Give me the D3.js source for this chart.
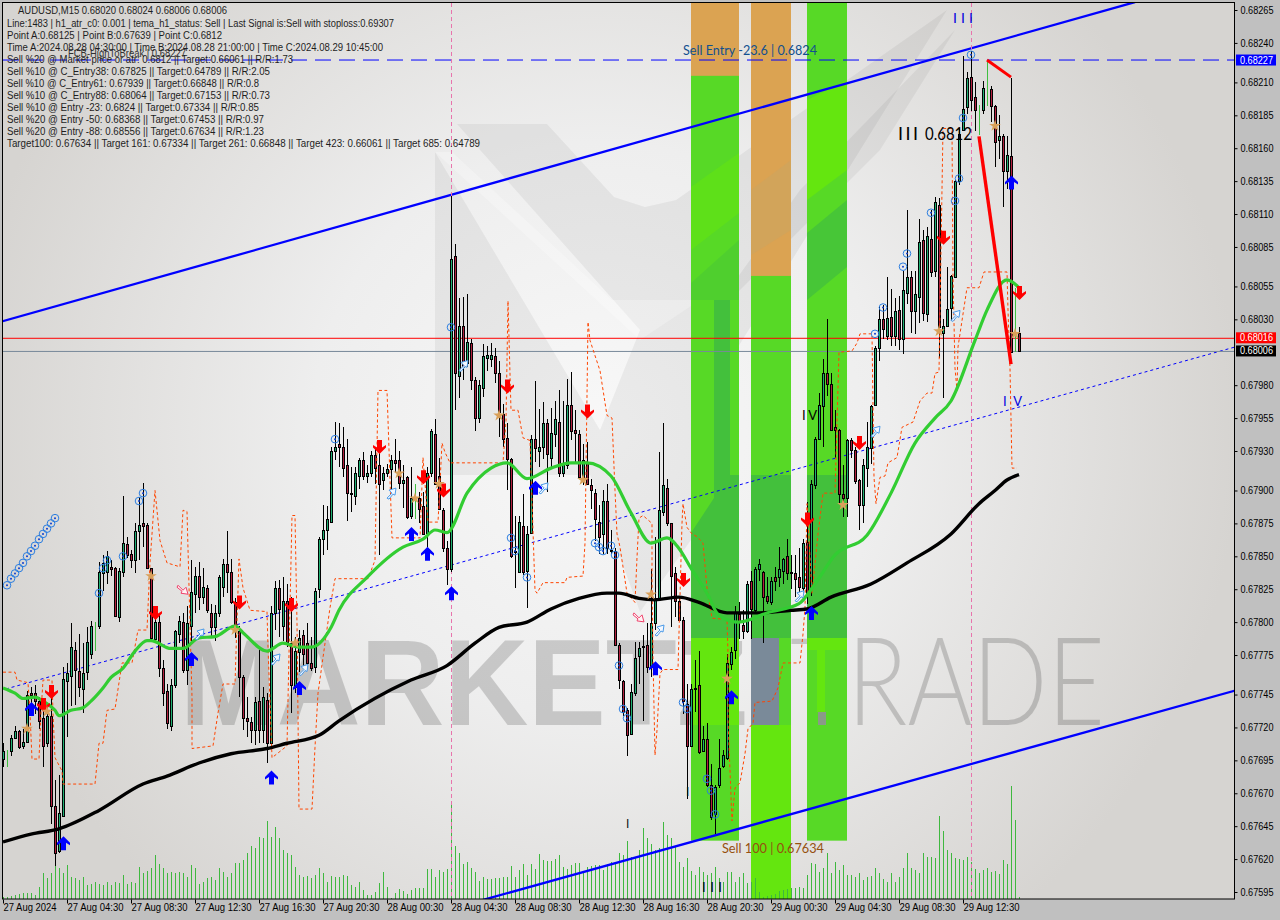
<!DOCTYPE html>
<html><head><meta charset="utf-8">
<script src="https://cdnjs.cloudflare.com/ajax/libs/d3/7.8.5/d3.min.js"></script>
<style>html,body{margin:0;padding:0;background:#c0c0c0;overflow:hidden}svg{display:block}text{font-family:"Liberation Sans",Arial,sans-serif}</style>
</head><body><svg id="c" width="1280" height="920"></svg>
<script>
// Prices are in points (1e-5)
const opens=[67696,67702,67702,67712,67717,67706,67709,67746,67746,67740,
67727,67708,67729,67660,67626,67653,67755,67759,67779,67763,
67749,67762,67776,67790,67797,67837,67838,67842,67841,67804,
67838,67859,67852,67847,67869,67875,67874,67841,67787,67800,
67765,67748,67721,67752,67791,67800,67764,67797,67821,67835,
67819,67826,67807,67796,67807,67827,67844,67838,67815,67793,
67758,67727,67724,67718,67740,67718,67741,67708,67807,67826,
67797,67816,67784,67751,67777,67790,67784,67769,67766,67825,
67863,67870,67876,67930,67935,67933,67919,67898,67896,67911,
67923,67911,67913,67927,67919,67908,67913,67916,67923,67923,
67906,67910,67881,67898,67894,67888,67868,67913,67943,67911,
67885,67856,67840,68078,67987,68025,67997,68012,67984,67955,
67978,68001,68000,68002,67989,67958,67940,67924,67854,67838,
67873,67839,67868,67939,67930,67933,67951,67925,67943,67952,
67913,67919,67965,67946,67943,67910,67921,67904,67898,67876,
67867,67892,67855,67854,67783,67755,67733,67715,67746,67774,
67781,67783,67766,67799,67818,67884,67902,67875,67837,67816,
67802,67738,67706,67750,67752,67702,67711,67676,67654,67676,
67691,67697,67768,67779,67806,67798,67793,67831,67809,67840,
67838,67820,67815,67834,67834,67839,67850,67838,67837,67834,
67826,67861,67825,67904,67939,67964,67989,67981,67948,67946,
67897,67894,67938,67931,67908,67889,67917,67932,67965,68008,
68030,68017,68032,68017,68037,68015,68050,68062,68036,68047,
68090,68034,68091,68067,68117,68020,68025,68039,68062,68135,
68174,68191,68214,68199,68192,68189,68204,68205,68192,68166,
68169,68143,68154,68020,68020];
const highs=[67708,67703,67714,67721,67718,67719,67748,67751,67752,67743,
67741,67736,67743,67680,67684,67766,67769,67799,67785,67791,
67784,67796,67801,67800,67846,67851,67854,67847,67842,67841,
67896,67865,67855,67875,67895,67906,67875,67841,67808,67807,
67771,67753,67757,67794,67805,67807,67812,67847,67842,67846,
67841,67828,67814,67813,67836,67848,67869,67848,67818,67797,
67760,67743,67728,67743,67779,67751,67746,67812,67831,67832,
67834,67829,67819,67789,67794,67794,67799,67789,67826,67865,
67889,67888,67933,67952,67951,67948,67939,67918,67918,67925,
67929,67919,67930,67932,67933,67918,67920,67927,67939,67930,
67919,67911,67918,67905,67899,67899,67918,67947,67954,67925,
67887,67862,68124,68087,68046,68047,68049,68015,67986,67984,
68011,68010,68012,68008,67998,67966,67951,67925,67881,67881,
67897,67873,67942,67983,67962,67967,67954,67963,67968,67976,
67968,67985,67990,67961,67946,67935,67937,67909,67901,67889,
67900,67905,67870,67856,67784,67756,67735,67753,67785,67785,
67790,67799,67840,67865,67929,67951,67909,67875,67842,67819,
67804,67753,67753,67771,67778,67721,67723,67692,67676,67711,
67703,67776,67781,67812,67815,67809,67831,67839,67842,67848,
67839,67834,67834,67842,67857,67849,67863,67851,67851,67856,
67863,67891,67908,67941,67974,68000,68030,67989,67961,67947,
67919,67939,67940,67933,67909,67924,67952,67965,68010,68040,
68041,68062,68053,68046,68048,68067,68113,68067,68067,68106,
68098,68100,68113,68123,68122,68030,68070,68064,68136,68175,
68230,68218,68234,68210,68193,68211,68226,68207,68193,68185,
68171,68169,68213,68054,68024];
const lows=[67690,67690,67698,67712,67704,67704,67708,67731,67730,67719,
67690,67705,67647,67615,67625,67652,67713,67736,67737,67743,
67731,67756,67772,67778,67795,67824,67829,67835,67804,67800,
67834,67849,67841,67837,67847,67857,67840,67786,67785,67758,
67736,67719,67717,67750,67784,67761,67752,67786,67807,67809,
67814,67807,67789,67786,67804,67819,67822,67814,67788,67743,
67718,67713,67708,67707,67708,67708,67693,67705,67794,67789,
67786,67781,67731,67746,67762,67766,67766,67763,67761,67818,
67851,67855,67875,67923,67918,67910,67877,67884,67889,67901,
67908,67906,67910,67905,67851,67900,67910,67901,67913,67901,
67887,67878,67878,67878,67875,67866,67857,67910,67904,67885,
67853,67828,67838,67961,67970,67984,67994,67976,67945,67951,
67971,67991,67994,67982,67941,67933,67900,67849,67826,67837,
67836,67811,67867,67922,67918,67924,67899,67918,67933,67910,
67910,67916,67938,67920,67909,67904,67904,67886,67862,67852,
67852,67852,67852,67782,67749,67729,67698,67714,67744,67753,
67725,67761,67758,67794,67816,67881,67873,67796,67804,67801,
67730,67666,67705,67732,67700,67701,67675,67650,67639,67674,
67689,67695,67764,67772,67787,67787,67792,67787,67808,67831,
67784,67814,67813,67824,67827,67829,67832,67825,67819,67822,
67822,67814,67820,67901,67938,67933,67972,67946,67925,67890,
67880,67880,67925,67905,67870,67875,67903,67920,67964,67998,
68015,68014,68010,68010,68007,68004,68042,68020,68019,68027,
68029,68028,68062,68062,68001,67970,68024,68029,68062,68132,
68173,68186,68188,68173,68170,68186,68192,68180,68146,68152,
68115,68129,68005,68005,68006];
const closes=[67702,67702,67712,67717,67705,67709,67745,67745,67740,67725,
67706,67729,67660,67625,67655,67757,67761,67781,67764,67751,
67761,67785,67797,67790,67838,67845,67850,67840,67805,67839,
67860,67851,67847,67869,67874,67873,67841,67788,67800,67765,
67746,67723,67752,67793,67801,67764,67799,67823,67835,67819,
67827,67809,67796,67807,67834,67844,67838,67815,67798,67758,
67727,67725,67718,67739,67718,67743,67708,67807,67826,67810,
67816,67785,67752,67778,67788,67776,67769,67765,67824,67863,
67870,67878,67930,67933,67933,67917,67898,67897,67913,67923,
67911,67913,67927,67917,67905,67913,67916,67923,67921,67906,
67908,67880,67894,67898,67886,67867,67913,67945,67905,67886,
67856,67840,68076,67989,68025,67994,68013,67984,67955,67980,
68002,68003,68003,67989,67960,67939,67924,67850,67853,67876,
67838,67867,67939,67932,67933,67951,67928,67944,67954,67913,
67920,67965,67945,67944,67910,67923,67905,67900,67878,67865,
67892,67856,67854,67783,67756,67732,67714,67747,67773,67780,
67782,67766,67799,67818,67885,67904,67875,67835,67816,67802,
67740,67706,67749,67749,67701,67711,67676,67652,67675,67689,
67699,67769,67777,67808,67801,67793,67829,67810,67840,67844,
67819,67816,67831,67831,67840,67848,67837,67837,67833,67827,
67860,67822,67905,67939,67965,67989,67981,67946,67946,67897,
67894,67938,67931,67907,67889,67919,67933,67964,68008,68030,
68023,68031,68017,68036,68015,68052,68062,68036,68049,68089,
68035,68093,68066,68119,68024,68025,68038,68063,68135,68171,
68190,68213,68197,68189,68192,68206,68204,68192,68165,68169,
68143,68155,68005,68020,68006];
const thinBars=[1,23,103,244,246,253];
const volumes=[2,2,3,4,5,6,6,6,4,12,26,21,26,34,31,26,34,22,21,19,
22,14,15,17,15,14,17,14,17,16,24,15,17,16,32,26,28,31,44,35,
31,26,27,26,27,26,22,34,31,15,17,21,22,19,31,27,22,26,36,36,
39,46,53,51,62,61,78,62,72,61,49,46,44,32,24,22,23,21,24,31,
26,17,23,22,22,24,23,14,12,17,9,4,4,7,16,27,12,1,6,10,
8,5,9,11,11,11,30,30,22,29,27,30,94,53,46,35,37,31,27,18,
22,20,20,21,21,22,22,33,22,29,35,24,35,30,45,39,38,38,40,44,
32,30,34,36,36,26,32,33,34,34,29,35,37,37,46,44,58,42,41,49,
71,61,55,49,51,77,64,61,52,37,32,41,28,24,32,27,24,26,32,21,
17,27,27,17,22,26,16,17,21,7,2,3,4,5,8,9,10,11,11,12,
11,24,36,35,27,31,46,26,37,29,34,24,24,22,26,19,22,23,31,26,
20,17,26,17,22,31,46,31,29,26,46,42,42,41,83,68,49,46,41,40,
39,42,37,30,26,29,31,27,28,25,39,35,113,79,2];

const blackIdx=[0,7,14,24,35,41,49,57,66,71,79,84,102,111,118,124,131,137,144,151,154,159,163,169,174,181,189,197,201,207,217,226,237,244,248,251,254];
const blackVal=[67633,67639,67643,67657,67677,67683,67693,67700,67704,67708,67714,67725,67756,67767,67784,67796,67800,67810,67818,67822,67822,67818,67817,67819,67815,67807,67807,67809,67810,67819,67829,67845,67867,67890,67900,67908,67912];
const greenIdx=[0,3,5,8,10,13,14,17,20,22,25,27,30,33,36,37,42,45,49,53,58,60,66,70,74,77,82,84,91,100,105,108,111,116,122,126,131,137,142,146,152,157,162,166,169,172,176,179,184,191,199,203,208,216,222,228,233,237,243,246,251,254];
const greenVal=[67750,67746,67742,67743,67740,67733,67729,67733,67735,67740,67750,67758,67765,67778,67786,67786,67780,67780,67788,67789,67797,67792,67778,67784,67781,67781,67796,67809,67834,67857,67863,67870,67868,67898,67917,67921,67909,67917,67921,67921,67911,67883,67860,67864,67856,67841,67822,67805,67800,67807,67814,67829,67851,67866,67898,67936,67955,67968,68014,68037,68060,68054];
const stopIdx=[0,3,3.5,6.25,6.75,7.25,9,9.5,10,12.25,12.5,13,14.75,15,23,24,25,26,28,29.75,32.25,33.75,36,36.75,38,39.25,41,44.25,45,46,47.25,47.25,52.5,53.75,55,58,59,60,61.75,66,66.25,67.25,71,72.25,73,73.5,74,77.25,78,78.75,81.75,83,91.25,93,93.75,96,97.25,101.75,104.25,105,106.25,108.75,109.75,110.5,111.75,125,125.75,126.25,127,128.75,130,131.75,133,133.5,135,140.5,141,145,145.5,146.25,146.75,149.25,151,152.25,153,153.5,154.25,156,158,158.5,159,160,162.25,162.25,162.5,163,163.5,164.25,165,168.75,169.75,170,171,172.25,173.5,175,176,177.25,181,181.25,181.25,182.25,183,184.25,185.5,186.25,187.5,188,192.25,193.75,195,199.25,200,200.5,201,202.25,203.75,205,208,209,212.25,213.5,214.25,217.25,217.75,218.25,219.25,220.5,221.25,223.5,224.75,227.5,229.25,231,232.25,233,234,235,237.25,237.5,238,238.5,238.75,239.75,241,244,245.25,251,251.25,251.75,252.25,253.5];
const stopVal=[67762,67762,67756,67754,67731,67696,67696,67731,67756,67756,67731,67697,67687,67677,67677,67708,67708,67733,67734,67769,67769,67794,67794,67845,67900,67862,67845,67842,67885,67884,67743,67704,67706,67731,67753,67753,67848,67826,67809,67808,67781,67697,67706,67881,67881,67799,67658,67658,67705,67746,67811,67833,67833,67847,67976,67976,67864,67864,67864,67925,67876,67876,67936,67929,67921,67921,67953,68044,67961,67961,67940,67938,67824,67822,67830,67830,67834,67835,67860,68028,68014,67991,67957,67955,67900,67867,67857,67822,67815,67849,67879,67881,67875,67834,67773,67699,67718,67761,67764,67764,67875,67890,67872,67867,67865,67860,67826,67803,67802,67776,67725,67649,67674,67678,67700,67719,67723,67739,67740,67750,67769,67769,67791,67811,67890,67822,67867,67898,67898,68005,68006,68012,68019,68019,67910,67890,67910,67911,67921,67925,67948,67952,67968,67974,67974,67989,67990,68175,68175,68062,67993,67976,68009,68029,68054,68054,68066,68066,68037,67993,67917,67917];

const upArrowIdx=[7,15,47,67,74,102,106,112,133,163,182,202,252];
const upArrowVal=[67734,67632,67772,67682,67750,67867,67852,67822,67902,67765,67743,67807,68134];
const downArrowIdx=[10,12,38,59,72,94,105,110,126,146,170,201,214,235,254];
const downArrowVal=[67737,67747,67807,67815,67813,67933,67910,67900,67979,67960,67832,67878,67936,68092,68050];
const starIdx=[6,11,37,58,73,99,103,109,124,145,162,181,210,234,248,253];
const starVal=[67719,67732,67835,67794,67784,67913,67894,67905,67957,67908,67821,67757,67889,68021,68177,68019];
const ringIdx=[1,2,3,4,5,6,7,8,9,10,11,12,13,24,25,26,30,34,35,83,112,127,128,131,148,149,150,152,153,154,155,156,170,171,176,177,178,218,220,225,226,232,238,239,240,242];
const ringVal=[67828,67833,67837,67841,67845,67850,67854,67858,67863,67867,67871,67875,67879,67822,67841,67847,67850,67892,67898,67939,68024,67864,67854,67834,67860,67857,67854,67858,67851,67767,67734,67727,67739,67734,67681,67672,67654,68019,68039,68070,68080,68111,68120,68137,68183,68231];
const hollowUpIdx=[49,68,75,97,115,135,164,199,218,238];
const hollowUpVal=[67791,67772,67764,67898,67995,67902,67794,67820,67945,68033];
const hollowDownIdx=[45,159];
const hollowDownVal=[67825,67804];

const priceTicks=[68265,68240,68210,68185,68160,68135,68110,68085,68055,68030,67980,67955,67930,67900,67875,67850,67825,67800,67775,67745,67720,67695,67670,67645,67620,67595];
const timeLabels=["27 Aug 2024","27 Aug 04:30","27 Aug 08:30","27 Aug 12:30","27 Aug 16:30","27 Aug 20:30","28 Aug 00:30","28 Aug 04:30","28 Aug 08:30","28 Aug 12:30","28 Aug 16:30","28 Aug 20:30","29 Aug 00:30","29 Aug 04:30","29 Aug 08:30","29 Aug 12:30"];
const headerLines=["Line:1483 | h1_atr_c0: 0.001 | tema_h1_status: Sell | Last Signal is:Sell with stoploss:0.69307",
"Point A:0.68125 | Point B:0.67639 | Point C:0.6812",
"Time A:2024.08.28 04:30:00 | Time B:2024.08.28 21:00:00 | Time C:2024.08.29 10:45:00",
"Sell %20 @ Market price or atr: 0.6812 || Target:0.66061 || R/R:1.73",
"Sell %10 @ C_Entry38: 0.67825 || Target:0.64789 || R/R:2.05",
"Sell %10 @ C_Entry61: 0.67939 || Target:0.66848 || R/R:0.8",
"Sell %10 @ C_Entry88: 0.68064 || Target:0.67153 || R/R:0.73",
"Sell %10 @ Entry -23: 0.6824 || Target:0.67334 || R/R:0.85",
"Sell %20 @ Entry -50: 0.68368 || Target:0.67453 || R/R:0.97",
"Sell %20 @ Entry -88: 0.68556 || Target:0.67634 || R/R:1.23",
"Target100: 0.67634 || Target 161: 0.67334 || Target 261: 0.66848 || Target 423: 0.66061 || Target 685: 0.64789"];
const headerWidths=[387,215,376,286,263,252,263,252,257,257,473];
const bandStart=[172,187,201], bandEnd=[184,197,211], bandLow=[67634,67589,67634], orangeFrom=[68215,68063,null];
const upperChannelIdx=[-0.75,283], upperChannelVal=[68028,68271];
const lowerChannelIdx=[120,308], lowerChannelVal=[67589,67748];
const midTrendIdx=[-0.75,308], midTrendVal=[67748,68009];
const zigIdxA=[246,252], zigValA=[68227,68214];
const zigIdxB=[244,252], zigValB=[68169,67996];
const priceLevels={blue:68227,red:68016,last:68006};
const vLineIdx=[112,242];

const L=3,R=1234,T=3,B=899;
const x=d3.scaleLinear().domain([0,254]).range([3,1019]);
const y=d3.scaleLinear().domain([67595,68265]).range([892,10]);
const v=d3.scaleLinear().domain([0,113]).range([899,786]);
const svg=d3.select("#c");
const defs=svg.append("defs");
const rg=defs.append("radialGradient").attr("id","bg").attr("gradientUnits","userSpaceOnUse").attr("cx",600).attr("cy",430).attr("r",640);
rg.append("stop").attr("offset",0).attr("stop-color","#f8f8f8");
rg.append("stop").attr("offset",.45).attr("stop-color","#eeeeee");
rg.append("stop").attr("offset",1).attr("stop-color","#d6d4d1");
defs.append("clipPath").attr("id","plot").append("rect").attr("x",L).attr("y",T).attr("width",R-L).attr("height",B-T);

svg.append("rect").attr("width",1280).attr("height",920).attr("fill","#c0c0c0");
svg.append("rect").attr("x",L).attr("y",T).attr("width",R-L).attr("height",B-T).attr("fill","url(#bg)");
const g=svg.append("g").attr("clip-path","url(#plot)");

// logo (decorative)
const poly=(pts,fill,op,par)=>(par||g).append("polygon").attr("points",pts.map(p=>p.join(",")).join(" ")).attr("fill",fill).attr("opacity",op);
const logoDark=[[[435,152],[435,475],[590,475],[640,612],[691,540],[730,480],[730,360],[947,10],[676,200],[645,207],[614,197],[547,124],[457,124],[640,330],[600,430]],
 [[955,30],[800,190],[700,330],[880,150]]];
logoDark.forEach(p=>poly(p,"#000",.05));
poly([[435,152],[452,152],[612,300],[700,300],[640,340]],"#fff",.25);

// watermark
g.append("text").attr("x",180).attr("y",725).attr("font-size",122).attr("font-weight",700).attr("textLength",600).attr("lengthAdjust","spacingAndGlyphs").attr("fill","#000").attr("opacity",.16).text("MARKETZI");
g.append("text").attr("x",790).attr("y",725).attr("font-size",122).attr("textLength",315).attr("lengthAdjust","spacingAndGlyphs").attr("style","font-family:Lato,'Liberation Sans';font-weight:300").attr("fill","#000").attr("opacity",.17).text("TRADE");

// bands
bandStart.forEach((s,k)=>{
  const x0=x(s),x1=x(bandEnd[k]),yb=y(bandLow[k]);
  g.append("rect").attr("x",x0).attr("y",T).attr("width",x1-x0).attr("height",yb-T).attr("fill","#57d926");
  if(orangeFrom[k]) g.append("rect").attr("x",x0).attr("y",T).attr("width",x1-x0).attr("height",y(orangeFrom[k])-T).attr("fill","#dba352");
});
// band tinting from the watermark
const dk="#43c03c",br="#64e60f";
poly([[691,533],[714,498],[714,300],[730,300],[730,475],[739,475],[739,638],[691,638]],dk,1);
[[751,475,791,638],[807,475,847,638]].forEach(r=>g.append("rect").attr("x",r[0]).attr("y",r[1]).attr("width",r[2]-r[0]).attr("height",r[3]-r[1]).attr("fill",dk));
[[691,638,739,725],[751,725,791,900],[807,638,847,650],[817,650,825,712]].forEach(r=>g.append("rect").attr("x",r[0]).attr("y",r[1]).attr("width",r[2]-r[0]).attr("height",r[3]-r[1]).attr("fill",br));
g.append("rect").attr("x",751).attr("y",638).attr("width",28).attr("height",87).attr("fill","#7a8a99");
g.append("rect").attr("x",818).attr("y",712).attr("width",8).attr("height",13).attr("fill","#8a9a88");
poly([[807,100],[847,80],[847,170],[807,200]],br,1);
poly([[807,233],[847,200],[847,267],[807,300]],dk,.8);
poly([[691,250],[739,213],[739,153],[691,187]],br,.55);
poly([[691,283],[739,240],[739,300],[691,300]],dk,.4);
poly([[751,190],[791,160],[791,230],[751,255]],"#cfa45e",.7);

// volume
g.append("g").selectAll("line").data(volumes).join("line")
 .attr("x1",(d,i)=>x(i)+.5).attr("x2",(d,i)=>x(i)+.5).attr("y1",899).attr("y2",d=>v(d)).attr("stroke","#3fb83f").attr("stroke-width",1);

// channel + trend
const seg=(ix,vx)=>ix.map((d,i)=>[x(d),y(vx[i])]);
const ln=d3.line();
g.append("path").attr("d",ln(seg(upperChannelIdx,upperChannelVal))).attr("stroke","#0000ff").attr("stroke-width",2.3).attr("fill","none");
g.append("path").attr("d",ln(seg(lowerChannelIdx,lowerChannelVal))).attr("stroke","#0000ff").attr("stroke-width",2.3).attr("fill","none");
g.append("path").attr("d",ln(seg(midTrendIdx,midTrendVal))).attr("stroke","#0000ff").attr("stroke-width",1).attr("stroke-dasharray","3,3").attr("fill","none");

// levels
g.append("line").attr("x1",L).attr("x2",R).attr("y1",y(priceLevels.blue)).attr("y2",y(priceLevels.blue)).attr("stroke","#0000ff").attr("stroke-width",1).attr("stroke-dasharray","16,8");
g.append("line").attr("x1",L).attr("x2",R).attr("y1",y(priceLevels.red)+.5).attr("y2",y(priceLevels.red)+.5).attr("stroke","#ff0000").attr("stroke-width",1);
g.append("line").attr("x1",L).attr("x2",R).attr("y1",y(priceLevels.last)+.5).attr("y2",y(priceLevels.last)+.5).attr("stroke","#778899").attr("stroke-width",1);
g.selectAll(".vl").data(vLineIdx).join("line").attr("x1",d=>x(d)+.5).attr("x2",d=>x(d)+.5).attr("y1",T).attr("y2",B).attr("stroke","#e874ac").attr("stroke-width",1).attr("stroke-dasharray","4,3");

// candles
const cg=g.append("g").attr("shape-rendering","crispEdges");
opens.forEach((o,i)=>{
  const thin=thinBars.includes(i), X=Math.round(x(i))+.5;
  cg.append("line").attr("x1",X).attr("x2",X).attr("y1",y(highs[i])).attr("y2",y(lows[i])).attr("stroke",thin?"#3fbf3f":"#000");
  if(thin) return;
  const c=closes[i], top=Math.round(y(Math.max(o,c))), bot=Math.round(y(Math.min(o,c)));
  cg.append("rect").attr("x",X-1).attr("y",top+.5).attr("width",2).attr("height",Math.max(1,bot-top))
    .attr("fill",c>=o?"#1fb072":"#b3203f").attr("stroke","#000").attr("stroke-width",1);
});

// orange stop line
g.append("path").attr("d",ln(seg(stopIdx,stopVal))).attr("stroke","#ff4500").attr("stroke-width",1).attr("stroke-dasharray","3,2.5").attr("fill","none");
// MAs
const curve=d3.line().curve(d3.curveMonotoneX);
g.append("path").attr("d",curve(seg(blackIdx,blackVal))).attr("stroke","#000").attr("stroke-width",3.4).attr("fill","none");
g.append("path").attr("d",curve(seg(greenIdx,greenVal))).attr("stroke","#32cd32").attr("stroke-width",3.2).attr("fill","none");
// zigzag
g.append("path").attr("d",ln(seg(zigIdxA,zigValA))).attr("stroke","#ff0000").attr("stroke-width",3).attr("fill","none");
g.append("path").attr("d",ln(seg(zigIdxB,zigValB))).attr("stroke","#ff0000").attr("stroke-width",3.4).attr("fill","none");

// markers
const arrow="M0,-7L6.5,-0.5L6.5,2L2.5,-0.5L2.5,7L-2.5,7L-2.5,-0.5L-6.5,2L-6.5,-0.5Z";
g.selectAll(".ua").data(upArrowIdx).join("path").attr("d",arrow).attr("fill","#0000ff").attr("transform",(d,i)=>`translate(${x(d)+.5},${y(upArrowVal[i])})`);
g.selectAll(".da").data(downArrowIdx).join("path").attr("d",arrow).attr("fill","#ff0000").attr("transform",(d,i)=>`translate(${x(d)+.5},${y(downArrowVal[i])}) rotate(180)`);
g.selectAll(".st").data(starIdx).join("path").attr("d",d3.symbol().type(d3.symbolStar).size(42)()).attr("fill","#d9a05a").attr("transform",(d,i)=>`translate(${x(d)},${y(starVal[i])})`);
const rings=g.append("g");
ringIdx.forEach((d,i)=>{const X=x(d),Y=y(ringVal[i]);
 rings.append("circle").attr("cx",X).attr("cy",Y).attr("r",3.8).attr("fill","none").attr("stroke","#2a7de0").attr("stroke-width",1);
 rings.append("circle").attr("cx",X).attr("cy",Y).attr("r",1).attr("fill","#1040d0");
});
const hollow="M-4,5L1,0L-2,-3L5,-5L4,2L2,1L-2,6Z";
g.selectAll(".hu").data(hollowUpIdx).join("path").attr("d",hollow).attr("fill","#f4f8ff").attr("stroke","#4a9ae8").attr("stroke-width",1).attr("transform",(d,i)=>`translate(${x(d)},${y(hollowUpVal[i])})`);
g.selectAll(".hd").data(hollowDownIdx).join("path").attr("d",hollow).attr("fill","#fff4f6").attr("stroke","#f0406a").attr("stroke-width",1).attr("transform",(d,i)=>`translate(${x(d)},${y(hollowDownVal[i])}) rotate(90)`);

// labels on chart
const t=(s,X,Y,size,fill,extra)=>{const e=g.append("text").attr("x",X).attr("y",Y).attr("font-size",size).attr("fill",fill).attr("dominant-baseline","middle").text(s); if(extra) Object.entries(extra).forEach(([k,w])=>e.attr(k,w)); return e;};
const lato="font-family:Lato,'Liberation Sans';font-weight:400";
t("Sell Entry -23.6 | 0.6824",683,51,14,"#12508f",{textLength:134,lengthAdjust:"spacingAndGlyphs",style:lato});
t("Sell 100 | 0.67634",722,849,14,"#96500f",{textLength:102,lengthAdjust:"spacingAndGlyphs",style:lato});
t("FCB-HighToBreak | 0.68227",68,54,10.5,"#333",{textLength:118,lengthAdjust:"spacingAndGlyphs"});
t("I I I",898,135,18,"#000",{textLength:20,lengthAdjust:"spacing",style:lato});
t("0.6812",925,135,18,"#000",{textLength:47,lengthAdjust:"spacingAndGlyphs",style:lato});
t("I I I",953,19,14,"#0000e0",{textLength:20,lengthAdjust:"spacing",style:lato});
t("I V",1003,403,13,"#0000e0",{textLength:19,lengthAdjust:"spacing",style:lato});
t("I V",802,417,13,"#000",{textLength:15,lengthAdjust:"spacing",style:lato});
t("I",626,825,12,"#111"); t("I",686,793,12,"#111"); t("I I I",702,889,13,"#000",{textLength:20,lengthAdjust:"spacing",style:lato});

// header
const hd=svg.append("g").attr("font-size",10).attr("fill","#1e1e1e");
hd.append("text").attr("x",18).attr("y",14).attr("textLength",209).attr("lengthAdjust","spacingAndGlyphs").text("AUDUSD,M15  0.68020 0.68024 0.68006 0.68006");
hd.selectAll(".h").data(headerLines).join("text").attr("x",7).attr("y",(d,i)=>27+i*12).attr("textLength",(d,i)=>headerWidths[i]).attr("lengthAdjust","spacingAndGlyphs").text(d=>d);

// frame & axes
svg.append("rect").attr("x",2.5).attr("y",2.5).attr("width",R-2).attr("height",B-2.5).attr("fill","none").attr("stroke","#000");
const ay=svg.append("g").attr("transform",`translate(${R+.5},0)`).call(d3.axisRight(y).tickValues(priceTicks).tickSize(3).tickFormat(d=>(d/1e5).toFixed(5)));
const ax=svg.append("g").attr("transform",`translate(0,${B+.5})`).call(d3.axisBottom(x).tickValues(timeLabels.map((d,i)=>i*16)).tickSize(4).tickFormat((d,i)=>timeLabels[i]));
[ay,ax].forEach(a=>{a.select(".domain").remove();a.selectAll("line").attr("stroke","#000");a.selectAll("text").attr("font-size",10).attr("font-family","'Liberation Sans'").attr("fill","#000").attr("lengthAdjust","spacingAndGlyphs");});
ay.selectAll("text").attr("x",6).attr("textLength",33);
ax.selectAll("text").attr("text-anchor","start").attr("y",4).attr("dy","0.71em").attr("textLength",(d,i)=>i?56:53);

// price tags
[[priceLevels.blue,"#0000ff","#fff"],[priceLevels.red,"#ff0000","#fff"],[priceLevels.last,"#000","#fff"]].forEach(a=>{
 const Y=y(a[0]);
 svg.append("rect").attr("x",1236).attr("y",Y-5.5).attr("width",40).attr("height",11).attr("fill",a[1]);
 svg.append("text").attr("x",1240).attr("y",Y+3.5).attr("font-size",10).attr("fill",a[2]).attr("textLength",33).attr("lengthAdjust","spacingAndGlyphs").text((a[0]/1e5).toFixed(5));
});
</script></body></html>
